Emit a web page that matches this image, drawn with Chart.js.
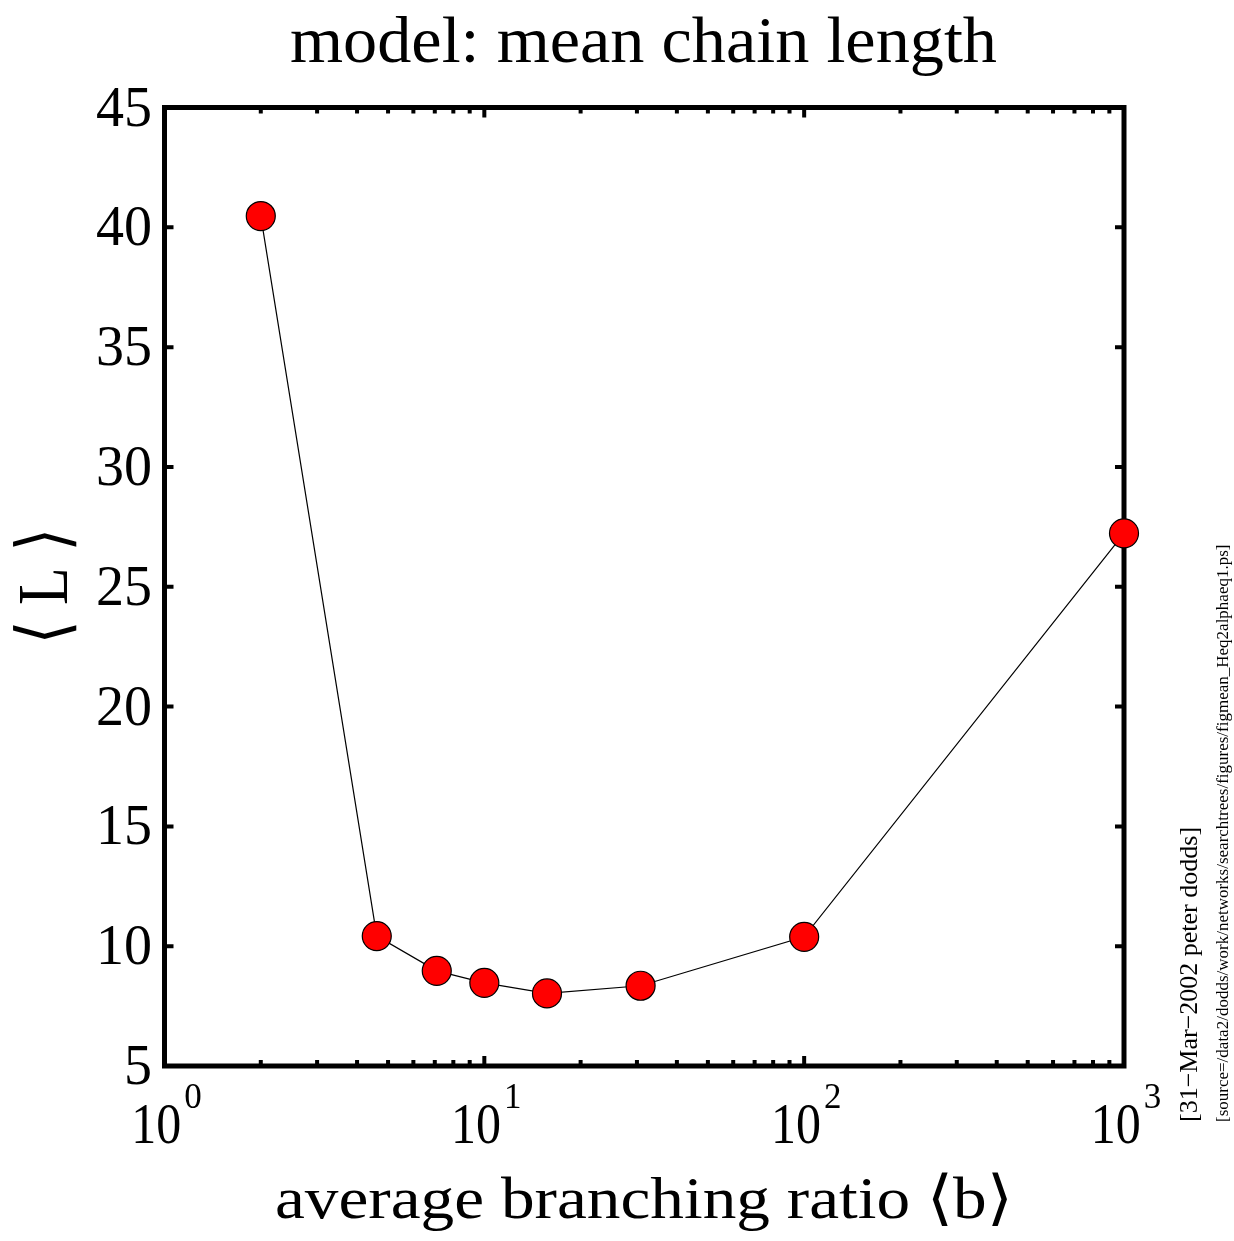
<!DOCTYPE html>
<html>
<head>
<meta charset="utf-8">
<title>model: mean chain length</title>
<script src="https://cdn.jsdelivr.net/npm/chart.js@4/dist/chart.umd.min.js"></script>
<style>
  html, body { margin: 0; padding: 0; background: #fff; }
  canvas { display: block; }
</style>
</head>
<body>
<canvas id="chart" width="1234" height="1241"></canvas>
<script>
// --- DATA ---
const branchingRatio = [2, 4.61, 7.1, 10, 15.7, 30.8, 100, 1000];
const meanLength = [40.47, 10.42, 8.97, 8.47, 8.03, 8.35, 10.39, 27.23];
const yTicks = [5, 10, 15, 20, 25, 30, 35, 40, 45];
const xDecades = [0, 1, 2, 3];

const SERIF = "'Liberation Serif', 'DejaVu Serif', serif";

// draw centred text stretched/squeezed to a given width
function fitText(ctx, text, cx, y, width) {
  const w = ctx.measureText(text).width;
  ctx.save();
  ctx.translate(cx, y);
  ctx.scale(width / w, 1);
  ctx.textAlign = 'center';
  ctx.fillText(text, 0, 0);
  ctx.restore();
}

// --- FRAME, TICKS AND TEXT (drawn with the chart's own scales) ---
const framePlugin = {
  id: 'frame',
  beforeDatasetsDraw(chart) {
    const ctx = chart.ctx, a = chart.chartArea;
    const xs = chart.scales.x, ys = chart.scales.y;
    ctx.save();
    ctx.strokeStyle = '#000';
    ctx.lineCap = 'butt';

    // y major ticks, inward on both sides
    ctx.lineWidth = 4;
    yTicks.forEach(v => {
      const py = ys.getPixelForValue(v);
      ctx.beginPath();
      ctx.moveTo(a.left, py); ctx.lineTo(a.left + 9, py);
      ctx.moveTo(a.right, py); ctx.lineTo(a.right - 9, py);
      ctx.stroke();
    });

    // x ticks (major + minor), inward on top and bottom
    for (let d = 0; d < 3; d++) {
      for (let m = 1; m <= 9; m++) {
        const v = m * Math.pow(10, d);
        const px = xs.getPixelForValue(v);
        const len = m === 1 ? 10 : 6;
        ctx.lineWidth = 4;
        ctx.beginPath();
        ctx.moveTo(px, a.bottom); ctx.lineTo(px, a.bottom - len);
        ctx.moveTo(px, a.top); ctx.lineTo(px, a.top + len);
        ctx.stroke();
      }
    }

    // thick frame
    ctx.lineWidth = 5;
    ctx.strokeRect(a.left, a.top, a.right - a.left, a.bottom - a.top);

    // y tick labels
    ctx.fillStyle = '#000';
    ctx.font = '56px ' + SERIF;
    ctx.textAlign = 'right';
    ctx.textBaseline = 'alphabetic';
    yTicks.forEach(v => {
      const py = ys.getPixelForValue(v);
      ctx.fillText(String(v), 152, py + 18);
    });

    // x tick labels: 10^n
    xDecades.forEach(n => {
      const px = xs.getPixelForValue(Math.pow(10, n));
      const baseW = 50;
      ctx.font = '35px ' + SERIF;
      const supW = ctx.measureText(String(n)).width;
      const total = baseW + 3 + supW;
      const x0 = px - total / 2 + 2;
      ctx.textAlign = 'left';
      ctx.font = '58px ' + SERIF;
      ctx.fillText('10', x0, 1143, baseW);
      ctx.font = '35px ' + SERIF;
      ctx.fillText(String(n), x0 + baseW + 3, 1108);
    });

    // title
    ctx.font = '66px ' + SERIF;
    fitText(ctx, 'model: mean chain length', 643.5, 62, 707);

    // x axis title
    ctx.font = '60px ' + SERIF;
    fitText(ctx, 'average branching ratio \u27E8b\u27E9', 644, 1218, 738);

    // y axis title (rotated)
    ctx.save();
    ctx.translate(67, 586);
    ctx.rotate(-Math.PI / 2);
    ctx.font = '71px ' + SERIF;
    fitText(ctx, '\u27E8 L \u27E9', 0, 0, 117);
    ctx.restore();

    // side stamps
    ctx.save();
    ctx.translate(1197, 1122);
    ctx.rotate(-Math.PI / 2);
    ctx.textAlign = 'left';
    ctx.font = '26px ' + SERIF;
    ctx.fillText('[31\u2212Mar\u22122002 peter dodds]', 0, 0, 325);
    ctx.restore();

    ctx.save();
    ctx.translate(1228, 1122);
    ctx.rotate(-Math.PI / 2);
    ctx.textAlign = 'left';
    ctx.font = '17px ' + SERIF;
    ctx.fillText('[source=/data2/dodds/work/networks/searchtrees/figures/figmean_Heq2alphaeq1.ps]', 0, 0, 579);
    ctx.restore();

    ctx.restore();
  }
};

// --- CHART ---
const points = branchingRatio.map((b, i) => ({ x: b, y: meanLength[i] }));

new Chart(document.getElementById('chart'), {
  type: 'scatter',
  data: {
    datasets: [{
      data: points,
      showLine: true,
      borderColor: '#000',
      borderWidth: 1.2,
      pointRadius: 14.5,
      pointHoverRadius: 14.5,
      pointBackgroundColor: '#ff0000',
      pointBorderColor: '#000',
      pointBorderWidth: 1.2,
      clip: false
    }]
  },
  options: {
    responsive: false,
    animation: false,
    devicePixelRatio: 1,
    layout: { padding: { left: 164.5, right: 110, top: 107.5, bottom: 175 } },
    plugins: { legend: { display: false }, tooltip: { enabled: false }, title: { display: false } },
    scales: {
      x: { type: 'logarithmic', min: 1, max: 1000, display: false },
      y: { type: 'linear', min: 5, max: 45, display: false }
    }
  },
  plugins: [framePlugin]
});
</script>
</body>
</html>
